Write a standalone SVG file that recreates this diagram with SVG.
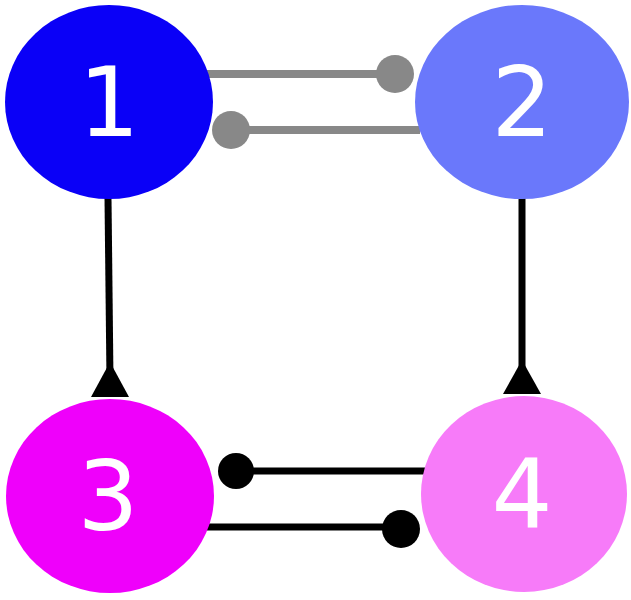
<svg xmlns="http://www.w3.org/2000/svg" width="631" height="600" viewBox="0 0 631 600">
<style>
.t{font-family:"DejaVu Sans",sans-serif;font-size:96px;fill:#fff;text-anchor:middle}
.g{stroke:#888;stroke-width:8}
.k{stroke:#000;stroke-width:7}
</style>
<rect width="631" height="600" fill="#fff"/>
<g id="connectors">
<line class="g" x1="205" y1="74" x2="395" y2="74"/><circle cx="395" cy="74" r="19" fill="#888"/>
<line class="g" x1="231" y1="130" x2="420" y2="130"/><circle cx="231" cy="130" r="19" fill="#888"/>
<line class="k" x1="108" y1="198" x2="110" y2="380"/><polygon points="110,362 91,397 129,397"/>
<line class="k" x1="522" y1="198" x2="522" y2="380"/><polygon points="522,360 503,394 541,394"/>
<line class="k" x1="236" y1="471" x2="426" y2="471"/><circle cx="236" cy="471" r="18"/>
<line class="k" x1="205" y1="527" x2="401" y2="527"/><circle cx="401" cy="529" r="19"/>
</g>
<g id="n1"><ellipse cx="109" cy="102" rx="104" ry="97" fill="#0a00f7"/><text class="t" x="109" y="136">1</text></g>
<g id="n2"><ellipse cx="522" cy="102" rx="107" ry="97" fill="#6a78fb"/><text class="t" x="522" y="136">2</text></g>
<g id="n3"><ellipse cx="110" cy="496" rx="104" ry="97" fill="#ef00fb"/><text class="t" x="108" y="530">3</text></g>
<g id="n4"><ellipse cx="524" cy="494" rx="103" ry="98" fill="#f77bf9"/><text class="t" x="522" y="528">4</text></g>
</svg>
